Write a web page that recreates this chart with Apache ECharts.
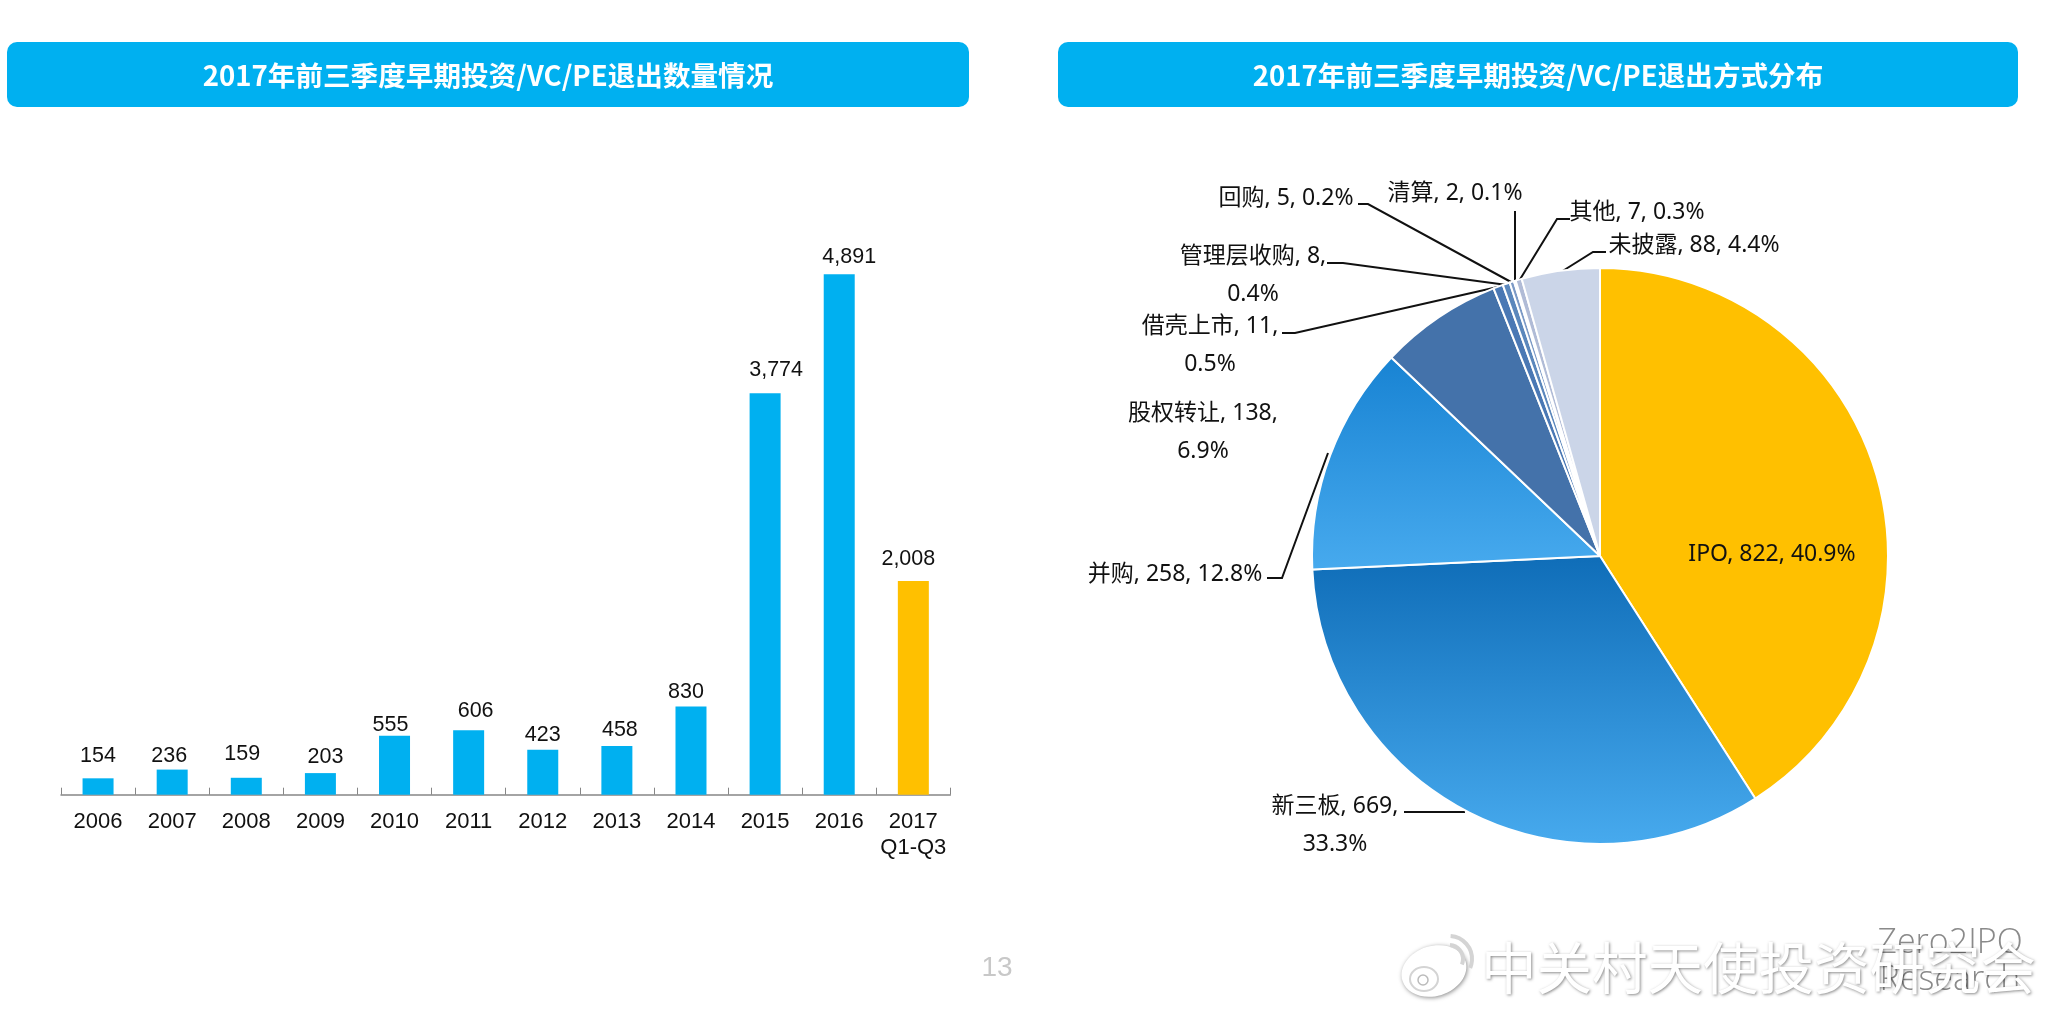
<!DOCTYPE html>
<html><head><meta charset="utf-8">
<style>html,body{margin:0;padding:0;background:#fff}#c{width:2048px;height:1022px}</style>
<script src="https://cdn.jsdelivr.net/npm/echarts@6/dist/echarts.min.js"></script>
</head><body><div id="c"></div>
<script>
const years = ['2006','2007','2008','2009','2010','2011','2012','2013','2014','2015','2016','2017\nQ1-Q3'];
const exitCounts = [154,236,159,203,555,606,423,458,830,3774,4891,2008];
const methodNames = ['IPO','新三板','并购','股权转让','借壳上市','管理层收购','回购','清算','其他','未披露'];
const methodCounts = [822,669,258,138,11,8,5,2,7,88];
const methodPercents = ['40.9%','33.3%','12.8%','6.9%','0.5%','0.4%','0.2%','0.1%','0.3%','4.4%'];
const wrappedLabels = ['新三板','股权转让','借壳上市','管理层收购'];

const barLabelShift = [[0,-11],[-3,-3],[-4,-13],[5,-5],[-4,0],[7,-8],[0,-4],[3,-5],[-5,-3],[11,-12],[10,-6],[-5,-11]];
const pieLabelAt = [[1772,554],[1335,825],[1175,574],[1203,432],[1210,345],[1253,275],[1286,198],[1455,193],[1637,212],[1694,245]];
const pieLeader = [null,
  [[1404,812],[1465,812],[1465,812]],
  [[1267,578],[1282,578],[1328,453]],
  null,
  [[1282,333],[1295,333],[1502,286]],
  [[1327,263],[1343,263],[1507,285]],
  [[1358,204],[1368,204],[1511,282]],
  [[1515,211],[1515,240],[1515,281]],
  [[1570,219],[1557,219],[1519,281]],
  [[1606,252],[1593,252],[1561,272]]];
const grad = (a,b)=>({type:'linear',x:0,y:0,x2:0,y2:1,colorStops:[{offset:0,color:a},{offset:1,color:b}]});
const sliceColors = ['#FFC000',grad('#0F6DB8','#47AAEE'),grad('#1883D3','#47AAEE'),'#4472AA','#4A78B4','#5B87BC','#7C9AC6','#DCE3F0','#B0BBD6','#CBD5E8'];

const chart = echarts.init(document.getElementById('c'),null,{renderer:'canvas'});
const SANS = '"Liberation Sans",Arial,sans-serif';
const CJK = '"Noto Sans","Noto Sans CJK SC",sans-serif';
const BOLD = '"Noto Sans CJK SC",sans-serif';

function header(x,w,text){
  return [
    {type:'rect',shape:{x:x,y:42,width:w,height:65,r:10},style:{fill:'#00B0F0'},z:1},
    {type:'text',x:x+w/2,y:76,style:{text:text,fill:'#fff',font:'bold 27.6px '+BOLD,align:'center',verticalAlign:'middle'},z:2}
  ];
}
const markColor='#d4d4d4';
chart.setOption({
  animation:false,
  backgroundColor:'#fff',
  grid:{left:61,top:262.7,width:889.4,height:532},
  xAxis:{type:'category',data:years,
    axisLine:{lineStyle:{color:'#868686',width:1.5}},
    axisTick:{show:true,inside:true,length:7,lineStyle:{color:'#868686'},alignWithLabel:false},
    axisLabel:{color:'#111',fontFamily:SANS,fontSize:22,margin:14,lineHeight:26,interval:0}},
  yAxis:{type:'value',min:0,max:5000,show:false,splitLine:{show:false}},
  series:[
   {type:'bar',barWidth:31,
    data:exitCounts.map((v,i)=>({value:v,
      itemStyle:{color:i===exitCounts.length-1?'#FFC000':'#00B0F0'},
      label:{offset:barLabelShift[i]}})),
    label:{show:true,position:'top',distance:0,color:'#111',fontFamily:SANS,fontSize:21.5,
      formatter:p=>p.value.toLocaleString('en-US')}},
   {type:'pie',center:[1600,556],radius:[0,288],startAngle:90,clockwise:true,
    minAngle:0,avoidLabelOverlap:false,
    itemStyle:{borderColor:'#fff',borderWidth:2},
    emphasis:{disabled:true},
    data:methodNames.map((n,i)=>({name:n,value:methodCounts[i],
      itemStyle:{color:sliceColors[i]},
      labelLine:{show:!!pieLeader[i]}})),
    label:{show:true,position:'outside',color:'#111',fontFamily:CJK,fontSize:23,lineHeight:38,
      formatter:p=>{
        const i=p.dataIndex;
        const sep=wrappedLabels.includes(p.name)?',\n':', ';
        return p.name+', '+p.value+sep+methodPercents[i];
      }},
    labelLine:{show:true,lineStyle:{color:'#111',width:2}},
    labelLayout:p=>{
      const i=p.dataIndex;
      const o={x:pieLabelAt[i][0],y:pieLabelAt[i][1],align:'center',verticalAlign:'middle'};
      if(pieLeader[i]) o.labelLinePoints=pieLeader[i];
      return o;
    }}
  ],
  graphic:[
    ...header(7,962,'2017年前三季度早期投资/VC/PE退出数量情况'),
    ...header(1058,960,'2017年前三季度早期投资/VC/PE退出方式分布'),
    {type:'text',x:997,y:968,style:{text:'13',fill:'#c8c8c8',font:'28px '+SANS,align:'center',verticalAlign:'middle'}},
    {type:'text',x:1950,y:943,style:{text:'Zero2IPO',fill:'#8a8a8a',font:'300 34px "Open Sans",'+SANS,align:'center',verticalAlign:'middle'},z:3},
    {type:'text',x:1950,y:980,style:{text:'Research',fill:'#8a8a8a',font:'300 34px "Open Sans",'+SANS,align:'center',verticalAlign:'middle'},z:3},
    {type:'text',x:1481,y:968,style:{text:'中关村天使投资研究会',fill:'#fff',font:'55.5px "Noto Sans CJK SC",sans-serif',align:'left',verticalAlign:'middle',
      textShadowColor:'rgba(0,0,0,0.45)',textShadowBlur:3,textShadowOffsetX:1,textShadowOffsetY:1},z:4},
    {type:'ellipse',shape:{cx:1434,cy:971,rx:33,ry:25},rotation:0.3,originX:1434,originY:971,style:{fill:'#fff',shadowColor:'rgba(0,0,0,0.45)',shadowBlur:4,shadowOffsetX:1,shadowOffsetY:1},z:4},
    {type:'ellipse',shape:{cx:1424,cy:979,rx:14,ry:12},style:{fill:'#fff',stroke:markColor,lineWidth:2},z:5},
    {type:'circle',shape:{cx:1423,cy:980,r:5},style:{fill:'#fff',stroke:'#bbb',lineWidth:1.5},z:5},
    {type:'arc',shape:{cx:1449,cy:959,r:14,startAngle:-1.5,endAngle:0.4},style:{stroke:markColor,lineWidth:4,fill:'none'},z:5},
    {type:'arc',shape:{cx:1449,cy:959,r:23,startAngle:-1.5,endAngle:0.4},style:{stroke:markColor,lineWidth:4,fill:'none'},z:5}
  ]
});
</script></body></html>
